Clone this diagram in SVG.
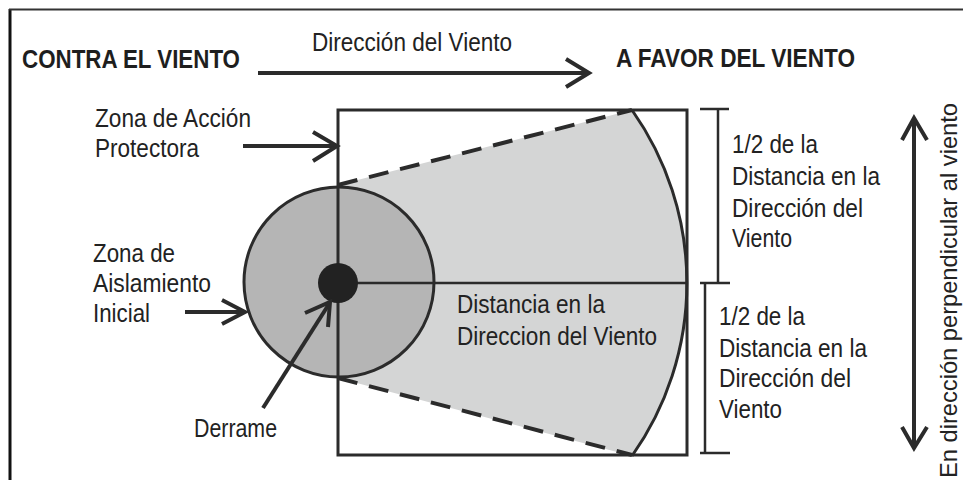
<svg xmlns="http://www.w3.org/2000/svg" width="963" height="480" viewBox="0 0 963 480">
  <style>
    .t { font-family: "Liberation Sans", Arial, sans-serif; font-size: 25px; fill: #222; }
    .b { font-family: "Liberation Sans", Arial, sans-serif; font-size: 25px; font-weight: bold; fill: #1e1e1e; }
    .ln { stroke: #2b2b2b; fill: none; }
    .arr { stroke: #2b2b2b; stroke-width: 4; fill: none; }
  </style>
  <rect width="963" height="480" fill="#ffffff"/>
  <!-- frame -->
  <g id="frame">
    <line x1="10" y1="9" x2="10" y2="480" stroke="#111" stroke-width="3"/>
    <line x1="9" y1="9.5" x2="963" y2="9.5" stroke="#333" stroke-width="2"/>
  </g>

  <!-- header -->
  <g id="header">
    <text class="b" x="22" y="68" textLength="218" lengthAdjust="spacingAndGlyphs">CONTRA EL VIENTO</text>
    <text class="b" x="616" y="67" textLength="239" lengthAdjust="spacingAndGlyphs">A FAVOR DEL VIENTO</text>
    <text class="t" x="312" y="51" textLength="200" lengthAdjust="spacingAndGlyphs">Dirección del Viento</text>
  </g>

  <!-- zones -->
  <g id="zona-accion-protectora">
    <path d="M338,185 L632,110 A300,300 0 0 1 632,456 L338,378 Z" fill="#d4d5d5"/>
    <line class="ln" x1="338" y1="185" x2="632" y2="110" stroke-width="4" stroke-dasharray="20 12"/>
    <line class="ln" x1="338" y1="378" x2="632" y2="455" stroke-width="4" stroke-dasharray="20 12"/>
    <path class="ln" d="M632,110 A300,300 0 0 1 632,456" stroke-width="3"/>
  </g>
  <g id="zona-aislamiento">
    <circle cx="339" cy="282" r="95" fill="#b5b5b5" stroke="#2b2b2b" stroke-width="3"/>
  </g>
  <g id="area-square">
    <rect class="ln" x="338" y="110" width="349" height="345" stroke-width="3"/>
    <line class="ln" x1="338" y1="283" x2="687" y2="283" stroke-width="2.5"/>
  </g>
  <g id="derrame">
    <circle cx="338" cy="283" r="20" fill="#222"/>
  </g>

  <!-- brackets -->
  <g id="brackets" class="ln" stroke-width="2.5">
    <line x1="718" y1="109" x2="718" y2="283"/>
    <line x1="700" y1="109" x2="729" y2="109"/>
    <line x1="700" y1="283" x2="730" y2="283"/>
    <line x1="705" y1="283" x2="705" y2="453"/>
    <line x1="700" y1="453" x2="730" y2="453"/>
  </g>

  <!-- connectors -->
  <g id="connectors">
    <line class="arr" x1="258" y1="73" x2="587" y2="73"/>
    <polyline class="arr" points="566,59 589,73 566,87"/>
    <line class="arr" x1="243" y1="146" x2="335" y2="146"/>
    <polyline class="arr" points="313,132 337,146 313,161"/>
    <line class="arr" x1="185" y1="312" x2="243" y2="312"/>
    <polyline class="arr" points="222,300 245,312 222,324"/>
    <line class="arr" x1="263" y1="408" x2="329" y2="304"/>
    <polyline class="arr" points="305,313 330,302 328,327"/>
    <line class="arr" x1="914" y1="120" x2="914" y2="446"/>
    <polyline class="arr" points="902,140 914,118 927,140"/>
    <polyline class="arr" points="902,427 914,448 927,427"/>
  </g>

  <!-- labels -->
  <g id="labels">
    <text class="t" x="95" y="127" textLength="156" lengthAdjust="spacingAndGlyphs">Zona de Acción</text>
    <text class="t" x="95" y="157" textLength="104" lengthAdjust="spacingAndGlyphs">Protectora</text>
    <text class="t" x="93" y="262" textLength="82" lengthAdjust="spacingAndGlyphs">Zona de</text>
    <text class="t" x="93" y="292" textLength="118" lengthAdjust="spacingAndGlyphs">Aislamiento</text>
    <text class="t" x="93" y="322" textLength="57" lengthAdjust="spacingAndGlyphs">Inicial</text>
    <text class="t" x="194" y="437" textLength="83" lengthAdjust="spacingAndGlyphs">Derrame</text>
    <text class="t" x="457" y="313" textLength="148" lengthAdjust="spacingAndGlyphs">Distancia en la</text>
    <text class="t" x="457" y="345" textLength="200" lengthAdjust="spacingAndGlyphs">Direccion del Viento</text>
    <text class="t" x="732" y="153" textLength="86" lengthAdjust="spacingAndGlyphs">1/2 de la</text>
    <text class="t" x="732" y="185" textLength="148" lengthAdjust="spacingAndGlyphs">Distancia en la</text>
    <text class="t" x="732" y="217" textLength="131" lengthAdjust="spacingAndGlyphs">Dirección del</text>
    <text class="t" x="732" y="247" textLength="60" lengthAdjust="spacingAndGlyphs">Viento</text>
    <text class="t" x="719" y="325" textLength="86" lengthAdjust="spacingAndGlyphs">1/2 de la</text>
    <text class="t" x="719" y="357" textLength="148" lengthAdjust="spacingAndGlyphs">Distancia en la</text>
    <text class="t" x="719" y="387" textLength="132" lengthAdjust="spacingAndGlyphs">Dirección del</text>
    <text class="t" x="719" y="418" textLength="63" lengthAdjust="spacingAndGlyphs">Viento</text>
    <text class="t" transform="translate(957,478) rotate(-90)" textLength="375" lengthAdjust="spacingAndGlyphs" style="font-size:24px">En dirección perpendicular al viento</text>
  </g>
</svg>
